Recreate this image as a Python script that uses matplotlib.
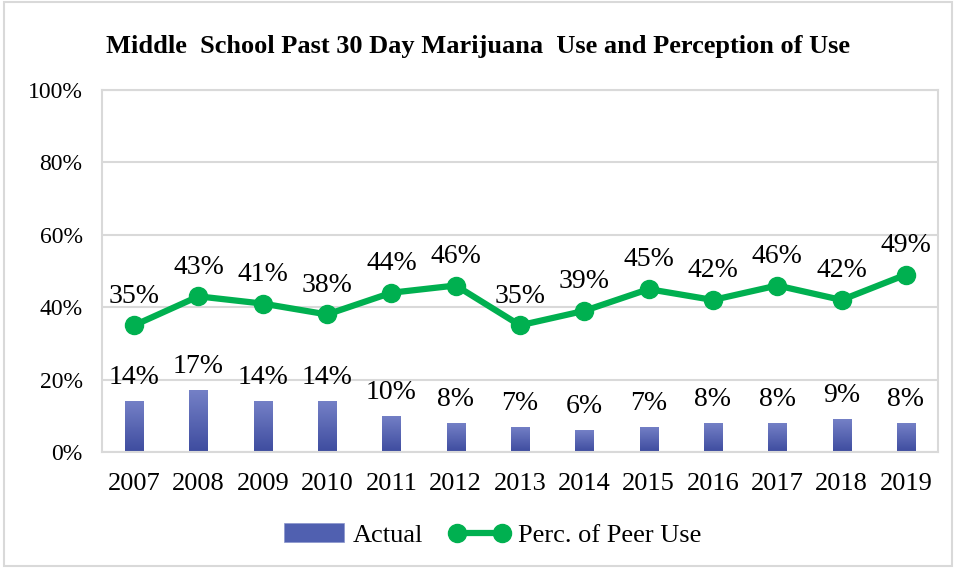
import numpy as np
import matplotlib.pyplot as plt
from matplotlib.patches import Rectangle
from matplotlib.colors import LinearSegmentedColormap

years = ['2007', '2008', '2009', '2010', '2011', '2012', '2013',
         '2014', '2015', '2016', '2017', '2018', '2019']
actual = [14, 17, 14, 14, 10, 8, 7, 6, 7, 8, 8, 9, 8]
peer_use = [35, 43, 41, 38, 44, 46, 35, 39, 45, 42, 46, 42, 49]

plt.rcParams['font.family'] = ['Liberation Serif', 'DejaVu Serif']

fig = plt.figure(figsize=(9.56, 5.68), dpi=100)
ax = fig.add_axes([0.1067, 0.2042, 0.8745, 0.6373])

# light border round the whole chart
fig.patches.append(Rectangle((0.004, 0.004), 0.992, 0.992, transform=fig.transFigure,
                             fill=False, edgecolor='#d9d9d9', linewidth=1.5))

x = np.arange(len(years))
bars = ax.bar(x, actual, width=0.28, color='#5060b0', edgecolor='#8a94cc',
              linewidth=0.5, zorder=2, label='Actual')

# vertical gradient fill for the bars
grad = LinearSegmentedColormap.from_list('g', ['#3e4c9f', '#7480c6'])
for b in bars:
    bx, by = b.get_x(), b.get_y()
    w, h = b.get_width(), b.get_height()
    im = ax.imshow(np.linspace(0, 1, 64).reshape(-1, 1), cmap=grad, origin='lower',
                   extent=[bx, bx + w, by, by + h], aspect='auto', zorder=2)
    im.set_clip_path(b)

ax.plot(x, peer_use, color='#00b050', linewidth=4.5, marker='o', markersize=13,
        zorder=3, label='Perc. of Peer Use')

for xi, v in zip(x, actual):
    ax.annotate(f'{v}%', (xi, v), xytext=(0, 8), textcoords='offset points',
                ha='center', va='bottom', fontsize=20)
for xi, v in zip(x, peer_use):
    ax.annotate(f'{v}%', (xi, v), xytext=(0, 12), textcoords='offset points',
                ha='center', va='bottom', fontsize=20)

ax.set_xlim(-0.5, len(years) - 0.5)
ax.set_ylim(0, 100)
ax.set_yticks(range(0, 101, 20))
ax.set_yticklabels([f'{t}%' for t in range(0, 101, 20)], fontsize=17)
ax.set_xticks(x)
ax.set_xticklabels(years, fontsize=19)
ax.tick_params(axis='x', length=0, pad=15)
ax.tick_params(axis='y', length=0, pad=14)
ax.yaxis.grid(True, color='#d9d9d9', linewidth=1.5, zorder=0)
ax.set_axisbelow(True)
for s in ax.spines.values():
    s.set_color('#d9d9d9')
    s.set_linewidth(1.5)

fig.text(0.5, 0.919, 'Middle  School Past 30 Day Marijuana  Use and Perception of Use',
         ha='center', va='center', fontsize=19, fontweight='bold')

handles, labels = ax.get_legend_handles_labels()
order = [labels.index('Actual'), labels.index('Perc. of Peer Use')]
fig.legend([handles[i] for i in order], [labels[i] for i in order],
           loc='center', bbox_to_anchor=(0.515, 0.058), ncol=2, frameon=False,
           fontsize=19, handlelength=2.3, columnspacing=1.0, handletextpad=0.3,
           numpoints=2)

fig.savefig('out.png', dpi=100)
